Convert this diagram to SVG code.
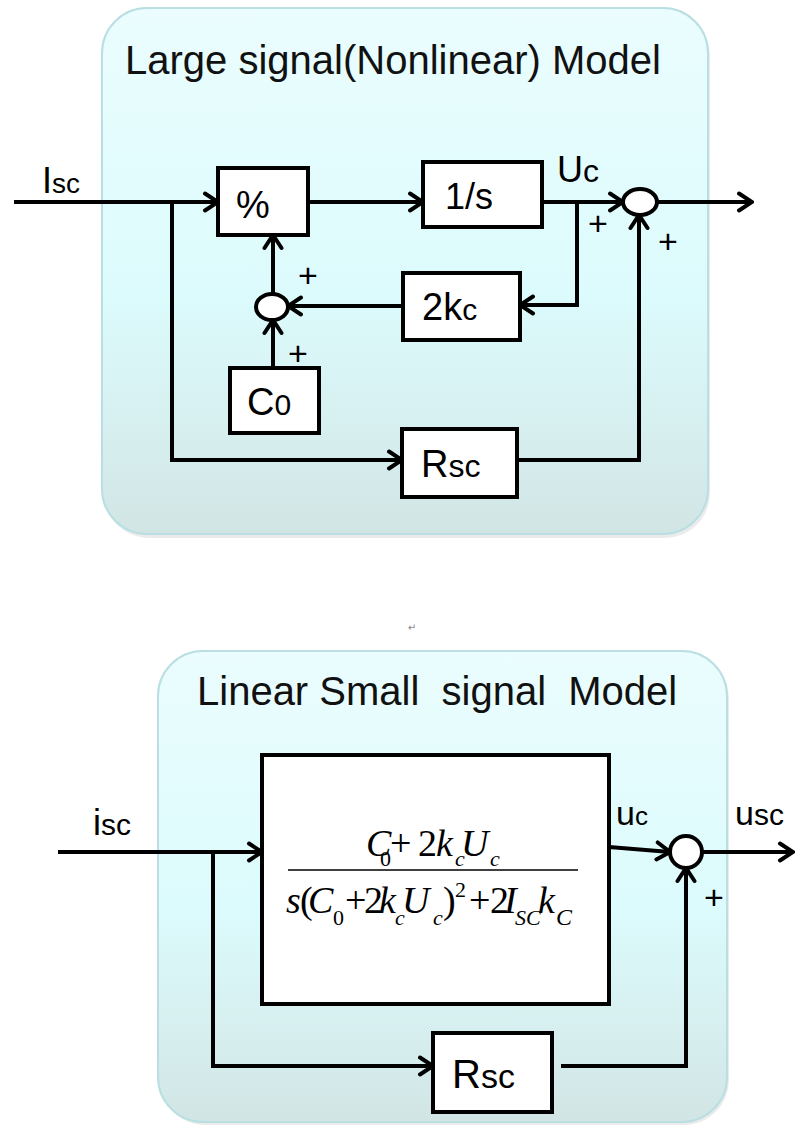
<svg xmlns="http://www.w3.org/2000/svg" width="795" height="1126" viewBox="0 0 795 1126">
<defs>
<linearGradient id="pg" x1="0" y1="0" x2="0" y2="1">
<stop offset="0" stop-color="#ebfdfe"/>
<stop offset="0.55" stop-color="#dcfbfc"/>
<stop offset="1" stop-color="#d2e5e5"/>
</linearGradient>
<marker id="ar" viewBox="0 0 18 22" refX="16" refY="11" markerWidth="18" markerHeight="22" markerUnits="userSpaceOnUse" orient="auto">
<path d="M3,2.5 L16,11 L3,19.5" fill="none" stroke="#000" stroke-width="4" stroke-linecap="round" stroke-linejoin="miter"/>
</marker>
</defs>
<style>
.panel{fill:url(#pg);stroke:#b9dfe2;stroke-width:2}
.shadow{fill:#000;opacity:0.08}
.box{fill:#fff;stroke:#000;stroke-width:4}
.sum{fill:#fff;stroke:#000;stroke-width:4}
.ln{fill:none;stroke:#000;stroke-width:4}
.arr{marker-end:url(#ar)}
.t{font-family:"Liberation Sans",Arial,sans-serif;fill:#000}
.ttl{font-family:"Liberation Sans",Arial,sans-serif;font-size:40px;fill:#111}
.pl{font-family:"Liberation Sans",Arial,sans-serif;font-size:34px;fill:#000;text-anchor:middle}
.m{font-family:"Liberation Serif","Times New Roman",serif;fill:#000;font-size:38px}
.i{font-style:italic}
.sb{font-size:22px}
</style>

<g id="panel-large">
<rect class="shadow" x="104" y="12" width="606" height="526" rx="45"/>
<rect class="panel" x="102" y="8" width="606" height="526" rx="45"/>
<text class="ttl" x="125" y="74">Large signal(Nonlinear) Model</text>
</g>

<g id="panel-small">
<rect class="shadow" x="160" y="655" width="569" height="470" rx="45"/>
<rect class="panel" x="158" y="651" width="569" height="471" rx="45"/>
<text class="ttl" x="197" y="705" xml:space="preserve">Linear Small  signal  Model</text>
</g>

<text x="412" y="631" font-family="DejaVu Sans,sans-serif" font-size="10" fill="#888" text-anchor="middle">↵</text>

<g id="connectors">
<path class="ln arr" d="M14,202 H218"/>
<path class="ln arr" d="M308,202 H423"/>
<path class="ln arr" d="M542,202 H623"/>
<path class="ln arr" d="M577,202 V305 H520"/>
<path class="ln arr" d="M403,306 H288"/>
<path class="ln arr" d="M273,294 V235"/>
<path class="ln arr" d="M273,368 V320"/>
<path class="ln arr" d="M172,202 V460 H402"/>
<path class="ln arr" d="M517,460 H639 V215"/>
<path class="ln arr" d="M657,202 H752"/>
<path class="ln arr" d="M58,852 H262"/>
<path class="ln arr" d="M213,852 V1066 H433"/>
<path class="ln arr" d="M561,1066 H686 V868"/>
<path class="ln arr" d="M609,847 L670,852"/>
<path class="ln arr" d="M702,852 H793"/>
</g>

<g id="label-Isc"><text class="t" x="42" y="193"><tspan font-size="36">I</tspan><tspan font-size="28">sc</tspan></text></g>
<g id="label-Uc"><text class="t" x="557" y="182"><tspan font-size="36">U</tspan><tspan font-size="32">c</tspan></text></g>

<g id="node-div">
<rect class="box" x="218" y="168" width="90" height="67"/>
<text class="t" x="253" y="218" font-size="38" text-anchor="middle">%</text>
</g>
<g id="node-int">
<rect class="box" x="423" y="162" width="119" height="65"/>
<text class="t" x="445" y="209" font-size="36">1/s</text>
</g>
<g id="node-2kc">
<rect class="box" x="403" y="273" width="117" height="67"/>
<text class="t" x="422" y="320"><tspan font-size="38">2k</tspan><tspan font-size="30">c</tspan></text>
</g>
<g id="node-sum1">
<ellipse class="sum" cx="272" cy="307" rx="16" ry="13"/>
<text class="pl" x="308" y="287">+</text>
<text class="pl" x="298" y="365">+</text>
</g>
<g id="node-C0">
<rect class="box" x="230" y="368" width="89" height="65"/>
<text class="t" x="247" y="415"><tspan font-size="38">C</tspan><tspan font-size="30">0</tspan></text>
</g>
<g id="node-Rsc1">
<rect class="box" x="402" y="429" width="115" height="68"/>
<text class="t" x="421" y="477"><tspan font-size="38">R</tspan><tspan font-size="32">sc</tspan></text>
</g>
<g id="node-sum2">
<ellipse class="sum" cx="640" cy="202" rx="17" ry="13"/>
<text class="pl" x="598" y="235">+</text>
<text class="pl" x="668" y="253">+</text>
</g>

<g id="label-isc"><text class="t" x="93" y="835"><tspan font-size="36">i</tspan><tspan font-size="30">sc</tspan></text></g>
<g id="label-uc"><text class="t" x="616" y="825"><tspan font-size="34">u</tspan><tspan font-size="26">c</tspan></text></g>
<g id="label-usc"><text class="t" x="735" y="825"><tspan font-size="34">u</tspan><tspan font-size="30">sc</tspan></text></g>

<g id="node-tf">
<rect class="box" x="262" y="755" width="347" height="249"/>
<text class="m" y="856"><tspan class="i" x="366">C</tspan><tspan class="sb" x="380" y="866">0</tspan><tspan x="390" y="856">+</tspan><tspan x="418">2</tspan><tspan class="i" x="436">k</tspan><tspan class="i sb" x="455" y="866">c</tspan><tspan class="i" x="461" y="856">U</tspan><tspan class="i sb" x="490" y="866">c</tspan></text>
<line x1="288" y1="870" x2="578" y2="870" stroke="#000" stroke-width="1.5"/>
<text class="m" y="913"><tspan class="i" x="286">s</tspan><tspan x="300">(</tspan><tspan class="i" x="308">C</tspan><tspan class="sb" x="333" y="925">0</tspan><tspan x="345" y="913">+</tspan><tspan x="364">2</tspan><tspan class="i" x="379">k</tspan><tspan class="i sb" x="395" y="925">c</tspan><tspan class="i" x="402" y="913">U</tspan><tspan class="i sb" x="433" y="925">c</tspan><tspan x="443" y="913">)</tspan><tspan class="sb" x="455" y="897">2</tspan><tspan x="469" y="913">+</tspan><tspan x="490">2</tspan><tspan class="i" x="504">I</tspan><tspan class="i sb" x="515" y="925">SC</tspan><tspan class="i" x="538" y="913">k</tspan><tspan class="i" font-size="24" x="556" y="925">C</tspan></text>
</g>
<g id="node-Rsc2">
<rect class="box" x="433" y="1033" width="119" height="79"/>
<text class="t" x="452" y="1088"><tspan font-size="40">R</tspan><tspan font-size="34">sc</tspan></text>
</g>
<g id="node-sum3">
<circle class="sum" cx="686" cy="852" r="16"/>
<text class="pl" x="714" y="909">+</text>
</g>
</svg>
